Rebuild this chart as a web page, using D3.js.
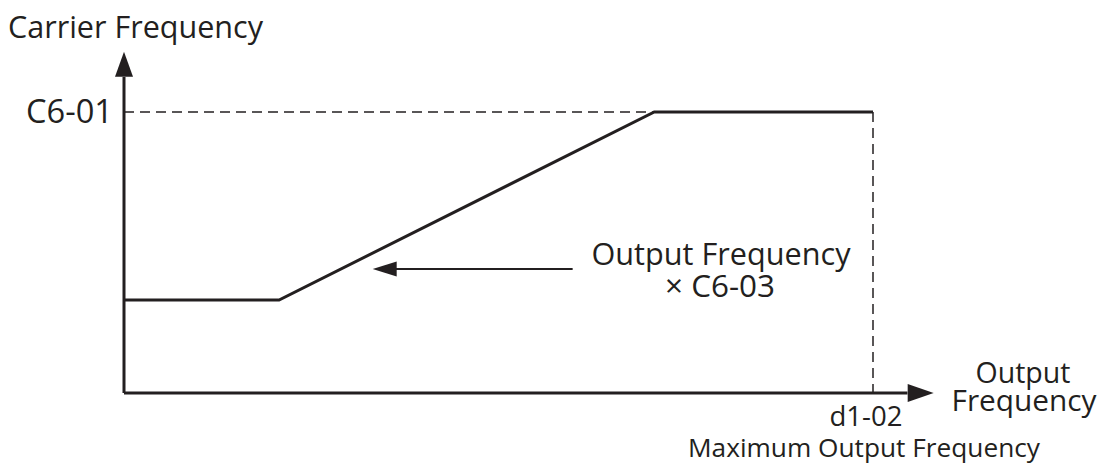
<!DOCTYPE html>
<html>
<head>
<meta charset="utf-8">
<script src="https://cdn.jsdelivr.net/npm/d3@7"></script>
<style>
  html, body { margin: 0; padding: 0; background: #fff; }
  svg text { font-family: "Open Sans", "Noto Sans", sans-serif; fill: #231f20; }
</style>
</head>
<body>
<script>
// output frequency in % of d1-02, carrier frequency in % of C6-01
const outputFreq = [0, 20.7, 70.8, 100];
const carrierFreq = [33.1, 33.1, 100, 100];

const xAxisEnd = 108.1;
const yAxisEnd = 121.4;

// annotation arrow (points at the ramp)
const annotFrom = [59.9, 44.1];
const annotTo = [33.2, 44.1];

const yTickLabel = 'C6-01';
const xTickLabel = 'd1-02';
const xTickNote = 'Maximum Output Frequency';
const yTitle = 'Carrier Frequency';
const xTitle = ['Output', 'Frequency'];
const annotText = ['Output Frequency', '\u00d7 C6-03'];

const width = 1105;
const height = 463;
const ink = '#231f20';

const svg = d3.select('body').append('svg').attr('width', width).attr('height', height);

const x = d3.scaleLinear().domain([0, 100]).range([124, 873]);
const y = d3.scaleLinear().domain([0, 100]).range([393, 112]);

const line = d3.line().x(d => x(d[0])).y(d => y(d[1]));

// dashed guides
svg.append('path')
  .attr('d', line([[0, 100], [outputFreq[2], 100]]))
  .attr('fill', 'none').attr('stroke', ink).attr('stroke-width', 1.5).attr('stroke-dasharray', '10,6');
svg.append('path')
  .attr('d', line([[100, 100], [100, 0]]))
  .attr('fill', 'none').attr('stroke', ink).attr('stroke-width', 1.5).attr('stroke-dasharray', '10,6');

// axes
svg.append('path')
  .attr('d', line([[0, 0], [0, yAxisEnd - 8.9]]))
  .attr('stroke', ink).attr('stroke-width', 3).attr('fill', 'none');
svg.append('path')
  .attr('d', line([[0, 0], [xAxisEnd - 3.5, 0]]))
  .attr('stroke', ink).attr('stroke-width', 3).attr('fill', 'none');

function arrowHead(tip, dir, len, half) {
  const tx = x(tip[0]), ty = y(tip[1]);
  let pts;
  if (dir === 'up') pts = [[tx, ty], [tx - half, ty + len], [tx + half, ty + len]];
  else if (dir === 'right') pts = [[tx, ty], [tx - len, ty - half], [tx - len, ty + half]];
  else pts = [[tx, ty], [tx + len, ty - half], [tx + len, ty + half]];
  svg.append('polygon').attr('points', pts.map(p => p.join(',')).join(' ')).attr('fill', ink);
}

arrowHead([0, yAxisEnd], 'up', 25, 9);
arrowHead([xAxisEnd, 0], 'right', 26, 9);

// carrier frequency curve
svg.append('path')
  .datum(outputFreq.map((d, i) => [d, carrierFreq[i]]))
  .attr('d', line)
  .attr('fill', 'none').attr('stroke', ink).attr('stroke-width', 3).attr('stroke-linejoin', 'miter');

// annotation
svg.append('path')
  .attr('d', line([annotFrom, [annotTo[0] + 2.5, annotTo[1]]]))
  .attr('stroke', ink).attr('stroke-width', 2).attr('fill', 'none');
arrowHead(annotTo, 'left', 24, 7.5);

// texts, widths fitted to the reference
function label(str, px, py, size, anchor, len) {
  const t = svg.append('text').attr('x', px).attr('y', py)
    .attr('font-size', size).attr('text-anchor', anchor).text(str);
  if (len) t.attr('textLength', len).attr('lengthAdjust', 'spacingAndGlyphs');
  return t;
}

label(yTitle, 8, 38, 31, 'start', 255);
label(yTickLabel, 113, y(100) + 11, 32, 'end', 87);

label(annotText[0], 721, 265, 31, 'middle', 259);
label(annotText[1], 720, 297, 31, 'middle', 110);

label(xTitle[0], 1023, 383, 30, 'middle', 95);
label(xTitle[1], 1024, 411, 30, 'middle', 145);

label(xTickLabel, 866, 426, 27, 'middle', 73);
label(xTickNote, 864, 457, 26, 'middle', 352);
</script>
</body>
</html>
